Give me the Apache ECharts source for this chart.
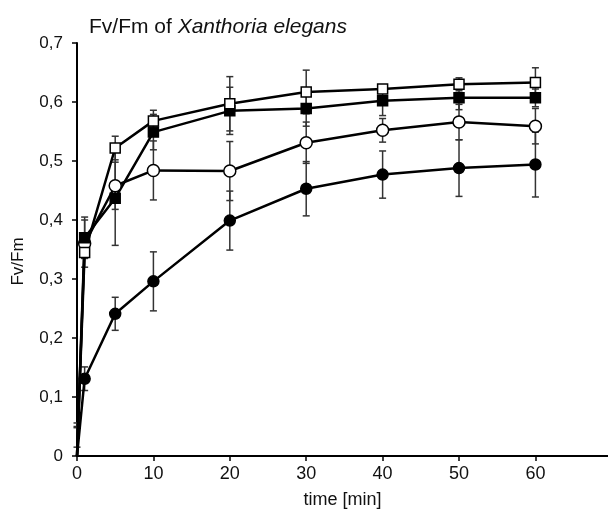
<!DOCTYPE html>
<html>
<head>
<meta charset="utf-8">
<script src="https://cdn.jsdelivr.net/npm/echarts@6/dist/echarts.min.js"></script>
<style>
  html, body { margin: 0; padding: 0; background: #fff; }
  #chart { width: 608px; height: 509px; }
</style>
</head>
<body>
<div id="chart"></div>
<script>
  // time points [min]
  const times = [0, 1, 5, 10, 20, 30, 40, 50, 60]
  const yTicks = [0, 0.1, 0.2, 0.3, 0.4, 0.5, 0.6, 0.7]

  // Fv/Fm values
  const openSquare = [0, 0.345, 0.522, 0.568, 0.597, 0.617, 0.622, 0.630, 0.633]
  const filledSquare = [0, 0.370, 0.437, 0.549, 0.585, 0.589, 0.602, 0.607, 0.607]
  const openCircle = [0, 0.360, 0.458, 0.484, 0.483, 0.531, 0.552, 0.566, 0.559]
  const filledCircle = [0, 0.131, 0.241, 0.296, 0.399, 0.453, 0.477, 0.488, 0.494]

  // error (± SD)
  const openSquareErr = [0.015, 0.01, 0.02, 0.018, 0.046, 0.037, 0.006, 0.011, 0.025]
  const filledSquareErr = [0.048, 0.035, 0.08, 0.03, 0.04, 0.03, 0.025, 0.02, 0.015]
  const openCircleErr = [0.056, 0.04, 0.04, 0.05, 0.05, 0.035, 0.02, 0.03, 0.03]
  const filledCircleErr = [0.05, 0.02, 0.028, 0.05, 0.05, 0.046, 0.04, 0.048, 0.055]

  const font = '"Liberation Sans", Arial, sans-serif'

  function pairs(vals) {
    // no marker at t = 0, line starts at the origin
    return times.map((t, i) => (t === 0 ? { value: [t, vals[i]], symbol: 'none' } : [t, vals[i]]))
  }
  function errData(vals, errs) {
    return times.map((t, i) => [t, vals[i], errs[i]])
  }

  function errorBars(vals, errs) {
    return {
      type: 'custom',
      z: 1,
      silent: true,
      data: errData(vals, errs),
      renderItem: function (params, api) {
        const x = api.value(0), y = api.value(1), e = api.value(2)
        const top = api.coord([x, y + e])
        const bot = api.coord([x, Math.max(0, y - e)])
        const w = 3.5
        const style = { stroke: '#333', lineWidth: 1.5 }
        const kids = [
          { type: 'line', shape: { x1: top[0], y1: top[1], x2: bot[0], y2: bot[1] }, style: style },
          { type: 'line', shape: { x1: top[0] - w, y1: top[1], x2: top[0] + w, y2: top[1] }, style: style },
        ]
        if (y - e > 0) {
          kids.push({ type: 'line', shape: { x1: bot[0] - w, y1: bot[1], x2: bot[0] + w, y2: bot[1] }, style: style })
        }
        return { type: 'group', children: kids }
      },
    }
  }

  function lineSeries(vals, symbol, size, fill) {
    return {
      type: 'line',
      z: 3,
      data: pairs(vals),
      symbol: symbol,
      symbolSize: size,
      showAllSymbol: true,
      lineStyle: { color: '#000', width: 2.5 },
      itemStyle: { color: fill, borderColor: '#000', borderWidth: 1.5 },
      emphasis: { disabled: true },
    }
  }

  const chart = echarts.init(document.getElementById('chart'))
  chart.setOption({
    animation: false,
    backgroundColor: '#fff',
    title: {
      left: 84,
      top: 12,
      text: '{n|Fv/Fm of }{i|Xanthoria elegans}',
      textStyle: {
        rich: {
          n: { fontFamily: font, fontSize: 21, fontWeight: 'normal', color: '#111' },
          i: { fontFamily: font, fontSize: 21, fontWeight: 'normal', fontStyle: 'italic', color: '#111' },
        },
      },
    },
    grid: { left: 77, right: 0, top: 43, bottom: 53, outerBoundsMode: 'none' },
    xAxis: {
      type: 'value',
      min: 0,
      max: 69.5,
      interval: 10,
      name: 'time [min]',
      nameLocation: 'middle',
      nameGap: 35,
      nameTextStyle: { fontFamily: font, fontSize: 18, color: '#111' },
      axisLine: { lineStyle: { color: '#000', width: 2 } },
      axisTick: { show: true, length: 5, lineStyle: { color: '#000', width: 1.5 } },
      axisLabel: { fontFamily: font, fontSize: 18, color: '#111', margin: 9, showMaxLabel: false },
      splitLine: { show: false },
    },
    yAxis: {
      type: 'value',
      min: yTicks[0],
      max: yTicks[yTicks.length - 1],
      interval: 0.1,
      name: 'Fv/Fm',
      nameLocation: 'middle',
      nameGap: 50,
      nameTextStyle: { fontFamily: font, fontSize: 17, color: '#111', padding: [0, 24, 0, 0] },
      axisLine: { show: true, lineStyle: { color: '#000', width: 2 } },
      axisTick: { show: true, length: 5, lineStyle: { color: '#000', width: 1.5 } },
      axisLabel: {
        fontFamily: font,
        fontSize: 17,
        color: '#111',
        margin: 14,
        formatter: function (v) {
          return v === 0 ? '0' : v.toFixed(1).replace('.', ',')
        },
      },
      splitLine: { show: false },
    },
    series: [
      errorBars(filledCircle, filledCircleErr),
      errorBars(openCircle, openCircleErr),
      errorBars(filledSquare, filledSquareErr),
      errorBars(openSquare, openSquareErr),
      lineSeries(filledCircle, 'circle', 11, '#000'),
      lineSeries(openCircle, 'circle', 12, '#fff'),
      lineSeries(filledSquare, 'rect', 10, '#000'),
      lineSeries(openSquare, 'rect', 10, '#fff'),
    ],
  })
</script>
</body>
</html>
